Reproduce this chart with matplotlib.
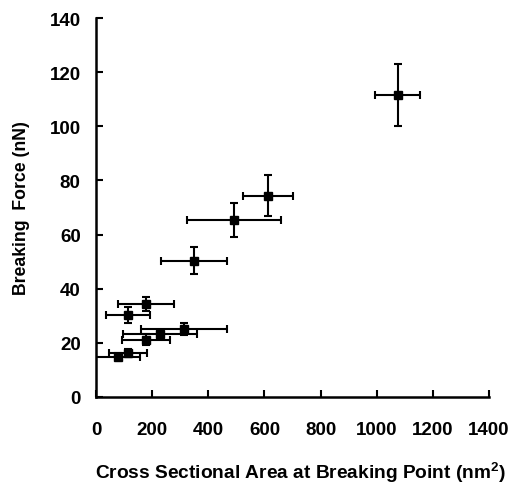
import matplotlib
matplotlib.use('Agg')
import matplotlib.pyplot as plt

plt.rcParams['font.family'] = ['Liberation Sans', 'DejaVu Sans']
plt.rcParams['font.weight'] = 'bold'
plt.rcParams['mathtext.fontset'] = 'custom'
plt.rcParams['mathtext.bf'] = 'Liberation Sans:bold'
plt.rcParams['mathtext.rm'] = 'Liberation Sans:bold'
plt.rcParams['mathtext.default'] = 'bf'

# cross sectional area (nm^2) and breaking force (nN), with errors
area = [1074, 613, 491, 349, 178, 114, 314, 228, 178, 115, 79]
area_err = [81, 90, 167, 118, 99, 80, 154, 133, 84, 67, 78]
force = [111.6, 74.3, 65.4, 50.4, 34.4, 30.3, 25.1, 23.3, 21.2, 16.2, 14.9]
force_err = [11.5, 7.6, 6.4, 5.0, 2.7, 2.8, 2.35, 1.5, 2.0, 1.5, 1.3]

xticks = [0, 200, 400, 600, 800, 1000, 1200, 1400]
yticks = [0, 20, 40, 60, 80, 100, 120, 140]

fig = plt.figure(figsize=(5.14, 4.85), dpi=100)
ax = fig.add_axes([0.1868, 0.1794, 0.7646, 0.7814])

ax.errorbar(area, force, xerr=area_err, yerr=force_err, fmt='s', color='black',
            ecolor='black', markersize=5.5, elinewidth=1.5, capsize=3, capthick=1.5)

ax.set_xlim(0, 1400)
ax.set_ylim(0, 140)
ax.set_xticks(xticks)
ax.set_yticks(yticks)
ax.spines['top'].set_visible(False)
ax.spines['right'].set_visible(False)
ax.spines['left'].set_linewidth(1.8)
ax.spines['bottom'].set_linewidth(1.8)
ax.tick_params(direction='in', length=5, width=1.5, labelsize=13.5)
ax.tick_params(axis='x', pad=17)
ax.tick_params(axis='y', pad=11)

ax.set_xlabel(r'Cross Sectional Area at Breaking Point (nm$^2$)', fontsize=13.8,
              fontweight='bold', labelpad=16)
ax.xaxis.label.set_x(0.52)
ax.set_ylabel('Breaking  Force (nN)', fontsize=12.7, fontweight='bold', labelpad=14)

plt.savefig('out.png', dpi=100)
